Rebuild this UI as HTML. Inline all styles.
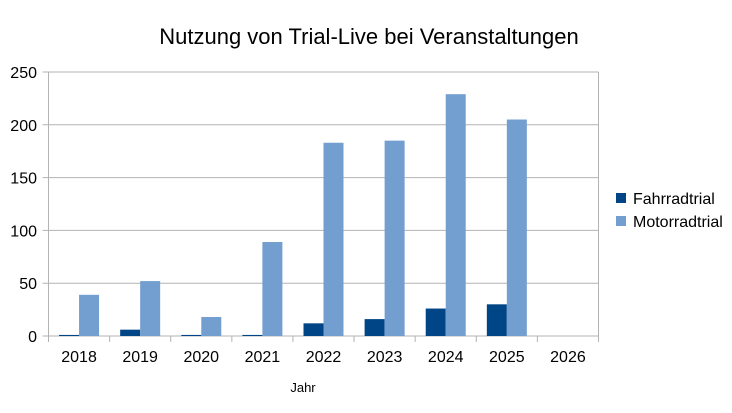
<!DOCTYPE html>
<html><head><meta charset="utf-8"><style>
body{margin:0;background:#fff;font-family:"Liberation Sans",sans-serif}
svg text{font-family:"Liberation Sans",sans-serif}
</style></head><body>
<svg width="732" height="408" viewBox="0 0 732 408">
<text x="369" y="44" text-anchor="middle" font-size="22" fill="#000">Nutzung von Trial-Live bei Veranstaltungen</text>
<g id="grid"></g>
<g id="bars"></g>
<g id="axes"></g>
<text x="303" y="392" text-anchor="middle" font-size="13">Jahr</text>
<g>
<g><rect x="616" y="193" width="10" height="10" fill="#004586"/><text x="633" y="204" font-size="16">Fahrradtrial</text></g>
<g><rect x="616" y="216" width="10" height="10" fill="#729fcf"/><text x="633" y="227" font-size="16">Motorradtrial</text></g>
</g>
</svg>
<script>
const categories=["2018","2019","2020","2021","2022","2023","2024","2025","2026"];
const fahrrad=[1,6,1,1,12,16,26,30,0];
const motorrad=[39,52,18,89,183,185,229,205,0];
const yTicks=[0,50,100,150,200,250];
const NS="http://www.w3.org/2000/svg";
const L=48.5,R=598.5,T=72,B=336,yMax=250;
const y=v=>B-(v/yMax)*(B-T);
const bw=(R-L)/categories.length;
const x=i=>L+i*bw;
function mk(tag,attrs,parent,txt){const e=document.createElementNS(NS,tag);for(const k in attrs)e.setAttribute(k,attrs[k]);if(txt!==undefined)e.textContent=txt;parent.appendChild(e);return e;}
const grid=document.getElementById('grid'),bars=document.getElementById('bars'),axes=document.getElementById('axes');
yTicks.forEach(t=>{
 const g=mk('line',{x1:L-6,x2:R,y1:y(t),y2:y(t),stroke:'#b3b3b3','stroke-width':1},grid);
 
 
 const tx=mk('text',{x:37,y:y(t)+6,'text-anchor':'end','font-size':16},axes,t);
 
 
});
mk('line',{x1:L,x2:L,y1:T,y2:B,stroke:'#b3b3b3'},axes);
mk('line',{x1:R,x2:R,y1:T,y2:B,stroke:'#b3b3b3'},axes);
categories.forEach((c,i)=>{
 const cx=x(i)+bw/2;
 const f=mk('rect',{x:cx-20,y:y(fahrrad[i]),width:20,height:B-y(fahrrad[i]),fill:'#004586'},bars);
 
 
 const m=mk('rect',{x:cx,y:y(motorrad[i]),width:20,height:B-y(motorrad[i]),fill:'#729fcf'},bars);
 
 
 const tx=mk('text',{x:cx,y:362,'text-anchor':'middle','font-size':16},axes,c);
 
 
});
for(let i=0;i<=categories.length;i++)mk('line',{x1:x(i),x2:x(i),y1:B,y2:B+6,stroke:'#b3b3b3'},axes);
</script>
</body></html>
